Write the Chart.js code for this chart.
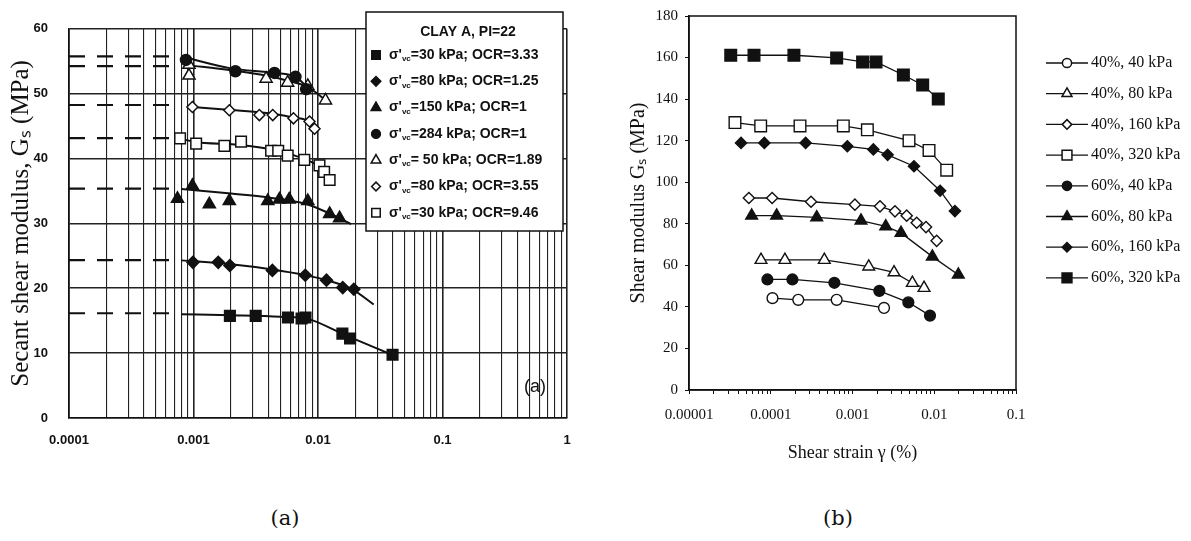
<!DOCTYPE html>
<html>
<head>
<meta charset="utf-8">
<script src="https://cdn.jsdelivr.net/npm/chart.js"></script>
<style>
  body { margin: 0; background: #fff; width: 1191px; height: 541px; position: relative; overflow: hidden; }
  #boxA { position: absolute; left: 0; top: 0; width: 600px; height: 470px; }
  #boxB { position: absolute; left: 600px; top: 0; width: 591px; height: 470px; }
  .cap { position: absolute; top: 508px; font-family: "DejaVu Serif", serif; font-size: 21px; line-height: 1; color: #111; transform: translateX(-50%); }
</style>
</head>
<body>
<div id="boxA"><canvas id="chartA" width="600" height="470"></canvas></div>
<div id="boxB"><canvas id="chartB" width="591" height="470"></canvas></div>
<div class="cap" style="left:285px">(a)</div>
<div class="cap" style="left:838px">(b)</div>
<script>
// ---------- panel (a): secant shear modulus, clay A ----------
const xDecadesA = [0.0001, 0.001, 0.01, 0.1, 1];
const xLabelsA = ['0.0001', '0.001', '0.01', '0.1', '1'];
const legendTextA = ['=30 kPa; OCR=3.33', '=80 kPa; OCR=1.25', '=150 kPa; OCR=1', '=284 kPa; OCR=1',
                     '= 50 kPa; OCR=1.89', '=80 kPa; OCR=3.55', '=30 kPa; OCR=9.46'];

// measured points (strain %, G MPa)
const sqFilledX = [0.00196, 0.00316, 0.00574, 0.00738, 0.00794, 0.0157, 0.0181, 0.0397];
const sqFilledY = [15.75, 15.75, 15.5, 15.35, 15.5, 13.0, 12.25, 9.75];
const dmFilledX = [0.00099, 0.00158, 0.00196, 0.0043, 0.0079, 0.0117, 0.0158, 0.0194];
const dmFilledY = [24.0, 24.0, 23.5, 22.75, 22.0, 21.25, 20.1, 19.85];
const trFilledX = [0.000744, 0.00098, 0.00134, 0.00194, 0.00395, 0.0049, 0.00587, 0.00828, 0.0124, 0.0149];
const trFilledY = [33.8, 35.8, 32.95, 33.45, 33.45, 33.7, 33.7, 33.45, 31.45, 30.8];
const ciFilledX = [0.00087, 0.00217, 0.00447, 0.00659, 0.00804];
const ciFilledY = [55.2, 53.45, 53.2, 52.6, 50.7];
const trOpenX = [0.00092, 0.00092, 0.00383, 0.0057, 0.00828, 0.01148];
const trOpenY = [54.45, 52.8, 52.3, 51.7, 51.2, 48.95];
const dmOpenX = [0.00098, 0.00194, 0.00338, 0.00433, 0.00635, 0.00855, 0.00938];
const dmOpenY = [47.95, 47.45, 46.7, 46.7, 46.2, 45.7, 44.6];
const sqOpenX = [0.00078, 0.00105, 0.00177, 0.00241, 0.0042, 0.00479, 0.00571, 0.00776, 0.01028, 0.0112, 0.0124];
const sqOpenY = [43.1, 42.3, 41.95, 42.6, 41.2, 41.2, 40.45, 39.8, 38.95, 37.95, 36.7];

// hand-drawn trend curves
const sqFitX = [0.0008, 0.002, 0.005, 0.0085, 0.016, 0.041];
const sqFitY = [16.0, 15.85, 15.6, 15.2, 12.9, 9.6];
const dmFitX = [0.0008, 0.002, 0.0043, 0.008, 0.012, 0.019, 0.028];
const dmFitY = [24.3, 23.7, 22.9, 22.0, 21.2, 19.8, 17.5];
const trFitX = [0.0008, 0.002, 0.004, 0.008, 0.0125, 0.0185];
const trFitY = [35.3, 34.6, 34.0, 33.0, 31.5, 29.9];
const ciFitX = [0.00085, 0.002, 0.0045, 0.0066, 0.0085];
const ciFitY = [55.6, 53.9, 53.2, 52.6, 50.7];
const toFitX = [0.0009, 0.002, 0.0038, 0.0057, 0.0083, 0.0115];
const toFitY = [54.4, 53.6, 52.8, 52.0, 51.0, 49.0];
const doFitX = [0.00098, 0.002, 0.0043, 0.0064, 0.0086, 0.0094];
const doFitY = [47.95, 47.5, 46.9, 46.3, 45.6, 44.6];
const soFitX = [0.00078, 0.001, 0.0024, 0.0045, 0.0078, 0.0103, 0.0124];
const soFitY = [43.1, 42.6, 42.1, 41.3, 39.9, 38.7, 36.8];

// small-strain modulus (dashed extrapolation)
const g0A = [16.15, 24.35, 35.35, 55.75, 54.25, 48.25, 43.15];
const dashEndA = 0.00075;

// ---------- panel (b) ----------
const xDecadesB = [0.00001, 0.0001, 0.001, 0.01, 0.1];
const xLabelsB = ['0.00001', '0.0001', '0.001', '0.01', '0.1'];
const labelsB = ['40%, 40 kPa', '40%, 80 kPa', '40%, 160 kPa', '40%, 320 kPa',
                 '60%, 40 kPa', '60%, 80 kPa', '60%, 160 kPa', '60%, 320 kPa'];
const c40_40X = [0.000105, 0.000217, 0.00064, 0.00243];
const c40_40Y = [44.2, 43.4, 43.4, 39.5];
const c40_80X = [0.000076, 0.000149, 0.000452, 0.00158, 0.00322, 0.0054, 0.0075];
const c40_80Y = [62.6, 62.6, 62.6, 59.4, 56.6, 51.5, 49.1];
const c40_160X = [0.000054, 0.000104, 0.000311, 0.00107, 0.00217, 0.00331, 0.0046, 0.0061, 0.00793, 0.0107];
const c40_160Y = [92.4, 92.4, 90.6, 89.2, 88.4, 86.0, 83.9, 80.5, 78.4, 71.8];
const c40_320X = [0.0000365, 0.0000753, 0.000228, 0.000772, 0.00152, 0.00491, 0.00863, 0.0142];
const c40_320Y = [128.7, 127.1, 127.1, 127.1, 125.2, 120.0, 115.3, 105.8];
const c60_40X = [0.000091, 0.000184, 0.0006, 0.00213, 0.00482, 0.00887];
const c60_40Y = [53.2, 53.2, 51.6, 47.7, 42.2, 35.8];
const c60_80X = [0.0000584, 0.000118, 0.000365, 0.00127, 0.00255, 0.00392, 0.00948, 0.0197];
const c60_80Y = [83.9, 83.9, 83.1, 81.5, 78.7, 75.6, 64.2, 55.5];
const c60_160X = [0.0000433, 0.0000835, 0.000267, 0.000865, 0.0018, 0.00269, 0.00565, 0.0118, 0.0179];
const c60_160Y = [118.9, 118.9, 118.9, 117.3, 115.8, 113.2, 107.7, 95.9, 86.1];
const c60_320X = [0.0000324, 0.0000624, 0.000192, 0.00064, 0.00133, 0.00194, 0.00419, 0.00722, 0.0112];
const c60_320Y = [161.1, 161.1, 161.1, 159.8, 157.9, 157.9, 151.6, 146.8, 140.0];

// ---------- helpers ----------
const INK = '#111';
const SANS = '"Liberation Sans", Arial, sans-serif';
const SERIF = '"Liberation Serif", "Times New Roman", serif';
function pts(xs, ys) { return xs.map((x, i) => ({ x: x, y: ys[i] })); }
function logTicks(decades) {
  const out = [];
  decades.forEach((d, i) => {
    out.push({ value: d });
    if (i < decades.length - 1) for (let k = 2; k <= 9; k++) out.push({ value: k * d });
  });
  return out;
}
function decadeIndex(decades, v) { return decades.findIndex(d => Math.abs(d - v) < d * 1e-6); }
function drawMark(ctx, style, r, fill, x, y) {
  ctx.save();
  ctx.fillStyle = fill ? INK : '#fff';
  ctx.strokeStyle = INK;
  ctx.lineWidth = 1.5;
  Chart.helpers.drawPoint(ctx, { pointStyle: style, radius: r, rotation: 0, borderWidth: 1.5 }, x, y);
  ctx.restore();
}

const styleA = [
  { ps: 'rect', r: 7.5, fill: true }, { ps: 'rectRot', r: 6, fill: true },
  { ps: 'triangle', r: 7, fill: true }, { ps: 'circle', r: 5.5, fill: true },
  { ps: 'triangle', r: 7, fill: false }, { ps: 'rectRot', r: 5.5, fill: false },
  { ps: 'rect', r: 7.5, fill: false }
];
const seriesA = [[sqFilledX, sqFilledY], [dmFilledX, dmFilledY], [trFilledX, trFilledY], [ciFilledX, ciFilledY],
                 [trOpenX, trOpenY], [dmOpenX, dmOpenY], [sqOpenX, sqOpenY]];
const fitsA = [[sqFitX, sqFitY], [dmFitX, dmFitY], [trFitX, trFitY], [ciFitX, ciFitY],
               [toFitX, toFitY], [doFitX, doFitY], [soFitX, soFitY]];

const datasetsA = [];
seriesA.forEach((s, i) => datasetsA.push({
  data: pts(s[0], s[1]), showLine: false, pointStyle: styleA[i].ps, pointRadius: styleA[i].r,
  pointBackgroundColor: styleA[i].fill ? INK : '#fff', pointBorderColor: INK, pointBorderWidth: 1.5
}));
fitsA.forEach(f => datasetsA.push({
  data: pts(f[0], f[1]), showLine: true, pointRadius: 0, borderColor: INK, borderWidth: 2,
  cubicInterpolationMode: 'monotone'
}));
g0A.forEach(g => datasetsA.push({
  data: [{ x: xDecadesA[0], y: g }, { x: dashEndA, y: g }], showLine: true, pointRadius: 0,
  borderColor: INK, borderWidth: 2.2, borderDash: [16, 12]
}));

// legend box + "(a)" tag drawn over the grid
const legendA = {
  id: 'legendA',
  afterDraw(chart) {
    const ctx = chart.ctx;
    ctx.save();
    ctx.fillStyle = '#fff';
    ctx.fillRect(366, 12, 197, 219);
    ctx.strokeStyle = INK; ctx.lineWidth = 1.5;
    ctx.strokeRect(366, 12, 197, 219);
    ctx.fillStyle = INK;
    ctx.textBaseline = 'middle';
    ctx.textAlign = 'center';
    ctx.font = 'bold 14px ' + SANS;
    ctx.fillText('CLAY A, PI=22', 468, 32);
    ctx.textAlign = 'left';
    legendTextA.forEach((t, i) => {
      const y = 55 + i * 26.3;
      drawMark(ctx, styleA[i].ps, styleA[i].r * 0.8, styleA[i].fill, 376, y);
      ctx.fillStyle = INK;
      let x = 389;
      ctx.font = 'bold 14px ' + SANS;
      ctx.fillText("σ'", x, y);
      x += ctx.measureText("σ'").width;
      ctx.font = 'bold 8px ' + SANS;
      ctx.fillText('vc', x, y + 4);
      x += ctx.measureText('vc').width;
      ctx.font = 'bold 14px ' + SANS;
      ctx.fillText(t, x, y);
    });
    ctx.font = '18px ' + SANS;
    ctx.textAlign = 'center';
    ctx.fillText('(a)', 535, 387);
    ctx.restore();
  }
};

const ctxA = document.getElementById('chartA').getContext('2d');
const chartA = new Chart(ctxA, {
  type: 'scatter',
  data: { datasets: datasetsA },
  options: {
    responsive: false,
    animation: false,
    events: [],
    layout: { padding: { top: 18, right: 33, left: 0, bottom: 0 } },
    plugins: { legend: { display: false }, tooltip: { enabled: false } },
    scales: {
      x: {
        type: 'logarithmic', min: xDecadesA[0], max: xDecadesA[xDecadesA.length - 1],
        afterBuildTicks: s => { s.ticks = logTicks(xDecadesA); },
        afterFit: s => { s.height = 52; },
        border: { color: INK, width: 1.6 },
        grid: {
          color: '#222', drawTicks: false,
          lineWidth: c => (c.tick && decadeIndex(xDecadesA, c.tick.value) >= 0) ? 1.6 : 1.1
        },
        ticks: {
          autoSkip: false, maxRotation: 0, padding: 15, color: INK,
          font: { family: SANS, size: 13, weight: 'bold' },
          callback: v => { const i = decadeIndex(xDecadesA, v); return i >= 0 ? xLabelsA[i] : ''; }
        }
      },
      y: {
        min: 0, max: 60,
        afterFit: s => { s.width = 69; },
        border: { color: INK, width: 1.6 },
        grid: { color: '#222', lineWidth: 1.6, drawTicks: false },
        ticks: { stepSize: 10, padding: 21, color: INK, font: { family: SANS, size: 13, weight: 'bold' } },
        title: {
          display: true, text: 'Secant shear modulus, Gₛ (MPa)', color: INK, padding: { top: 6 },
          font: { family: SERIF, size: 25 }
        }
      }
    }
  },
  plugins: [legendA]
});

// ---------- panel (b) chart ----------
const styleB = [
  { ps: 'circle', r: 5.4, fill: false }, { ps: 'triangle', r: 6.8, fill: false },
  { ps: 'rectRot', r: 5.6, fill: false }, { ps: 'rect', r: 8.2, fill: false },
  { ps: 'circle', r: 5.4, fill: true }, { ps: 'triangle', r: 6.8, fill: true },
  { ps: 'rectRot', r: 5.6, fill: true }, { ps: 'rect', r: 8.2, fill: true }
];
const seriesB = [[c40_40X, c40_40Y], [c40_80X, c40_80Y], [c40_160X, c40_160Y], [c40_320X, c40_320Y],
                 [c60_40X, c60_40Y], [c60_80X, c60_80Y], [c60_160X, c60_160Y], [c60_320X, c60_320Y]];

const datasetsB = seriesB.map((s, i) => ({
  label: labelsB[i],
  data: pts(s[0], s[1]), showLine: true, borderColor: INK, borderWidth: 1.3,
  pointStyle: styleB[i].ps, pointRadius: styleB[i].r,
  pointBackgroundColor: styleB[i].fill ? INK : '#fff', pointBorderColor: INK, pointBorderWidth: 1.4
}));

const frameLegendB = {
  id: 'frameLegendB',
  afterDraw(chart) {
    const ctx = chart.ctx;
    const a = chart.chartArea;
    ctx.save();
    ctx.strokeStyle = INK; ctx.lineWidth = 1.5;
    ctx.strokeRect(a.left, a.top, a.right - a.left, a.bottom - a.top);
    ctx.font = '16px ' + SERIF;
    ctx.textBaseline = 'middle';
    ctx.textAlign = 'left';
    labelsB.forEach((t, i) => {
      const y = 63 + i * 30.7;
      ctx.strokeStyle = INK; ctx.lineWidth = 1.3;
      ctx.beginPath(); ctx.moveTo(446, y); ctx.lineTo(488, y); ctx.stroke();
      drawMark(ctx, styleB[i].ps, styleB[i].r * 0.85, styleB[i].fill, 467, y);
      ctx.fillStyle = INK;
      ctx.fillText(t, 491, y);
    });
    ctx.restore();
  }
};

const ctxB = document.getElementById('chartB').getContext('2d');
const chartB = new Chart(ctxB, {
  type: 'scatter',
  data: { datasets: datasetsB },
  options: {
    responsive: false,
    animation: false,
    events: [],
    layout: { padding: { top: 10, right: 175, left: 0, bottom: 0 } },
    plugins: { legend: { display: false }, tooltip: { enabled: false } },
    scales: {
      x: {
        type: 'logarithmic', min: xDecadesB[0], max: xDecadesB[xDecadesB.length - 1],
        afterBuildTicks: s => { s.ticks = logTicks(xDecadesB); },
        afterFit: s => { s.height = 80; },
        border: { color: INK, width: 1.5 },
        grid: { drawOnChartArea: false, color: INK, tickLength: 4 },
        ticks: {
          autoSkip: false, maxRotation: 0, padding: 12, color: INK,
          font: { family: SERIF, size: 15 },
          callback: v => { const i = decadeIndex(xDecadesB, v); return i >= 0 ? xLabelsB[i] : ''; }
        },
        title: {
          display: true, text: 'Shear strain γ (%)', color: INK, padding: { bottom: 6 },
          font: { family: SERIF, size: 18 }
        }
      },
      y: {
        min: 0, max: 180,
        afterFit: s => { s.width = 89; },
        border: { color: INK, width: 1.5 },
        grid: { drawOnChartArea: false, color: INK, tickLength: 4 },
        ticks: { stepSize: 20, padding: 7, color: INK, font: { family: SERIF, size: 15 } },
        title: {
          display: true, text: 'Shear modulus Gₛ (MPa)', color: INK, padding: { top: 27 },
          font: { family: SERIF, size: 20 }
        }
      }
    }
  },
  plugins: [frameLegendB]
});
</script>
</body>
</html>
